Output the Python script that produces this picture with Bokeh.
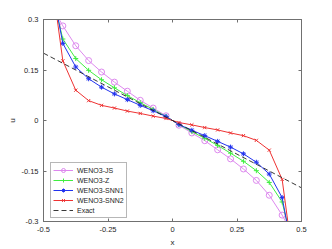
from bokeh.plotting import figure
from bokeh.models import Range1d, LinearAxis, FixedTicker, Legend
from bokeh.embed import file_html
from bokeh.resources import INLINE

# ---- data ----
x = [-0.475, -0.425, -0.375, -0.325, -0.275, -0.225, -0.175, -0.125, -0.075, -0.025,
     0.025, 0.075, 0.125, 0.175, 0.225, 0.275, 0.325, 0.375, 0.425, 0.475]
weno_js = [0.35, 0.281, 0.222, 0.178, 0.144, 0.114, 0.087, 0.060, 0.037, 0.014,
           -0.014, -0.037, -0.060, -0.087, -0.114, -0.144, -0.178, -0.222, -0.281, -0.35]
weno_z = [0.40, 0.242, 0.184, 0.149, 0.121, 0.097, 0.074, 0.053, 0.033, 0.012,
          -0.012, -0.033, -0.053, -0.074, -0.097, -0.121, -0.149, -0.184, -0.242, -0.40]
weno_snn1 = [0.43, 0.229, 0.159, 0.124, 0.099, 0.079, 0.062, 0.045, 0.029, 0.012,
             -0.012, -0.029, -0.045, -0.062, -0.079, -0.099, -0.124, -0.159, -0.229, -0.43]
weno_snn2 = [0.46, 0.177, 0.090, 0.059, 0.045, 0.037, 0.028, 0.021, 0.013, 0.006,
             -0.006, -0.013, -0.021, -0.028, -0.037, -0.045, -0.059, -0.088, -0.175, -0.46]
exact_x = [-0.5, 0.5]
exact_u = [0.2, -0.2]

x_ticks = [-0.5, -0.25, 0, 0.25, 0.5]
x_tick_labels = ["-0.5", "-0.25", "0", "0.25", "0.5"]
y_ticks = [-0.3, -0.15, 0, 0.15, 0.3]
y_tick_labels = ["-0.3", "-0.15", "0", "0.15", "0.3"]

FONT = "Liberation Sans"
AXIS_COLOR = "#707070"
TEXT_COLOR = "#262626"

p = figure(width=332, height=249, output_backend="svg", toolbar_location=None,
           x_range=Range1d(-0.5, 0.5), y_range=Range1d(-0.3, 0.3),
           min_border_left=43, min_border_right=31, min_border_top=19, min_border_bottom=28)
p.grid.visible = False
p.outline_line_color = AXIS_COLOR
p.background_fill_color = "white"
p.border_fill_color = "white"


def style_axis(ax, ticks, labels):
    ax.ticker = FixedTicker(ticks=ticks)
    ax.major_label_overrides = {t: l for t, l in zip(ticks, labels)}
    ax.major_tick_in = 3
    ax.major_tick_out = 0
    ax.minor_tick_line_color = None
    ax.axis_line_color = AXIS_COLOR
    ax.major_tick_line_color = AXIS_COLOR
    ax.major_label_text_font = FONT
    ax.major_label_text_font_size = "7.5px"
    ax.major_label_text_color = TEXT_COLOR
    ax.axis_label_text_font = FONT
    ax.axis_label_text_font_size = "8px"
    ax.axis_label_text_font_style = "normal"
    ax.axis_label_text_color = TEXT_COLOR


def mirror_axis(ticks):
    # ticks only (drawn as minor ticks, so no labels are produced)
    ax = LinearAxis(ticker=FixedTicker(ticks=[], minor_ticks=ticks))
    ax.minor_tick_in = 3
    ax.minor_tick_out = 0
    ax.minor_tick_line_color = AXIS_COLOR
    ax.axis_line_color = AXIS_COLOR
    ax.major_tick_line_color = None
    ax.major_label_standoff = 0
    return ax


style_axis(p.xaxis[0], x_ticks, x_tick_labels)
style_axis(p.yaxis[0], y_ticks, y_tick_labels)
p.xaxis[0].axis_label = "x"
p.yaxis[0].axis_label = "u"
p.xaxis[0].major_label_standoff = 5
p.xaxis[0].axis_label_standoff = 3
p.yaxis[0].major_label_standoff = 5
p.yaxis[0].axis_label_standoff = 1

p.add_layout(mirror_axis(x_ticks), "above")
p.add_layout(mirror_axis(y_ticks), "right")

c_js = "#dd88ee"
c_z = "#40ee40"
c_s1 = "#2233ee"
c_s2 = "#ee3333"

r1 = p.line(x, weno_js, line_color=c_js, line_width=1)
m1 = p.scatter(x, weno_js, marker="circle", size=6, fill_color=None, line_color=c_js, line_width=1)
r2 = p.line(x, weno_z, line_color=c_z, line_width=1)
m2 = p.scatter(x, weno_z, marker="cross", size=5, line_color=c_z, line_width=1)
r3 = p.line(x, weno_snn1, line_color=c_s1, line_width=1)
m3 = p.scatter(x, weno_snn1, marker="asterisk", size=5, line_color=c_s1, line_width=1)
r4 = p.line(x, weno_snn2, line_color=c_s2, line_width=1)
m4 = p.scatter(x, weno_snn2, marker="x", size=4.5, line_color=c_s2, line_width=1)
r5 = p.line(exact_x, exact_u, line_color="#222222", line_width=0.9, line_dash="5 3")

legend = Legend(items=[("WENO3-JS", [r1, m1]), ("WENO3-Z", [r2, m2]),
                       ("WENO3-SNN1", [r3, m3]), ("WENO3-SNN2", [r4, m4]),
                       ("Exact", [r5])],
                location=(7, 3))
legend.label_text_font = FONT
legend.label_text_font_size = "7px"
legend.label_text_color = TEXT_COLOR
legend.glyph_width = 20
legend.glyph_height = 10
legend.label_height = 10
legend.label_width = 46
legend.label_standoff = 4
legend.spacing = 0
legend.padding = 2
legend.margin = 0
legend.border_line_color = AXIS_COLOR
legend.background_fill_alpha = 1
p.add_layout(legend, "center")

open("out.html", "w").write(file_html(p, INLINE))
